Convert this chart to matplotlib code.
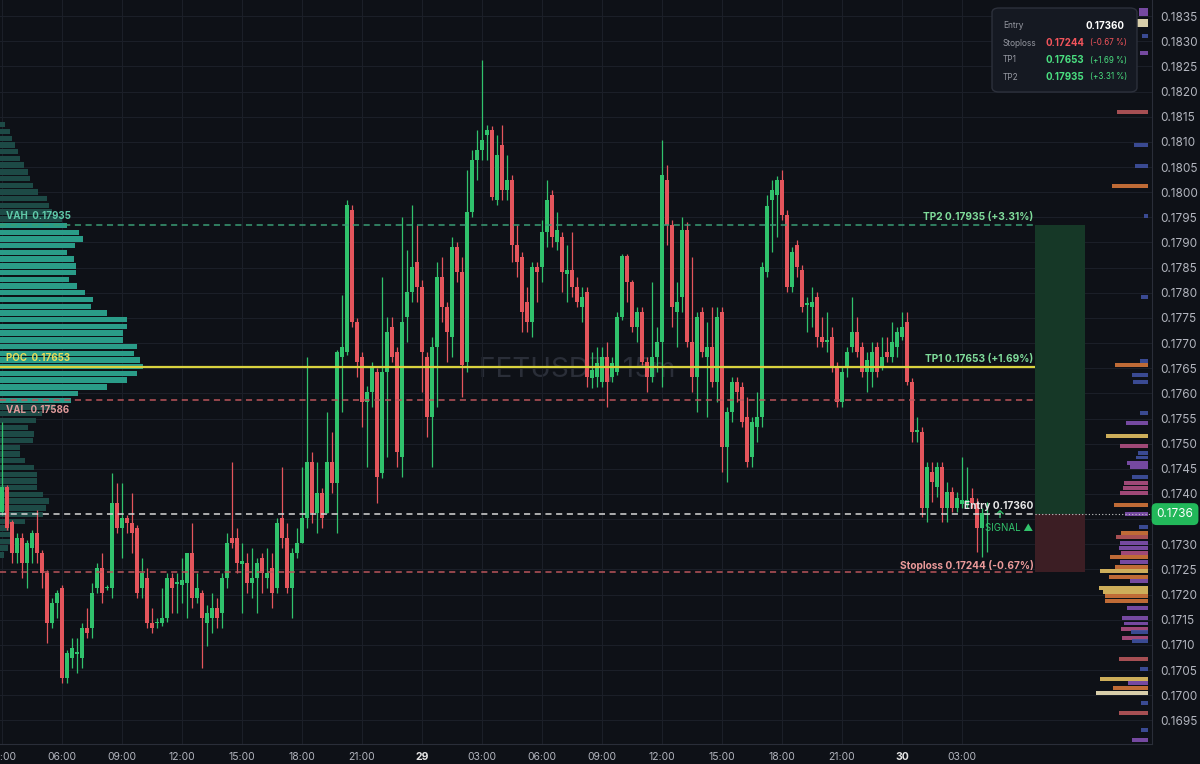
import numpy as np
import matplotlib.pyplot as plt
from matplotlib.patches import FancyBboxPatch, Rectangle

plt.rcParams['font.family'] = ['Inter', 'DejaVu Sans']

# FETUSDT 15m candles, first one = 28th 03:00
opens = [0.17364, 0.17414, 0.17344, 0.17283, 0.17313, 0.17263, 0.17293, 0.17322, 0.17283, 0.17243,
         0.17143, 0.17183, 0.17213, 0.17034, 0.17074, 0.17082, 0.17074, 0.17134, 0.17134, 0.17213,
         0.17253, 0.17213, 0.17213, 0.17382, 0.17332, 0.17352, 0.17342, 0.17332, 0.17213, 0.17233,
         0.17143, 0.17143, 0.17143, 0.17153, 0.17233, 0.17221, 0.17219, 0.17223, 0.17283, 0.17193,
         0.17203, 0.17143, 0.17153, 0.17173, 0.17163, 0.17233, 0.17313, 0.17313, 0.17261, 0.17263,
         0.17223, 0.17233, 0.17273, 0.17233, 0.17253, 0.17213, 0.17352, 0.17313, 0.17213, 0.17283,
         0.17303, 0.17352, 0.17464, 0.17362, 0.17402, 0.17362, 0.17464, 0.17422, 0.17672, 0.17682,
         0.17965, 0.17742, 0.17672, 0.17583, 0.17603, 0.17642, 0.17442, 0.17642, 0.17732, 0.17682,
         0.17474, 0.17752, 0.17801, 0.17861, 0.17811, 0.17672, 0.17553, 0.17692, 0.17831, 0.17772,
         0.17712, 0.17891, 0.17841, 0.17662, 0.17961, 0.18064, 0.18084, 0.18114, 0.18124, 0.17984,
         0.18094, 0.18004, 0.18024, 0.17895, 0.17871, 0.17782, 0.17742, 0.17851, 0.17851, 0.17921,
         0.17994, 0.17901, 0.17911, 0.17837, 0.17845, 0.17811, 0.17772, 0.17801, 0.17630, 0.17632,
         0.17623, 0.17672, 0.17632, 0.17642, 0.17752, 0.17873, 0.17821, 0.17732, 0.17762, 0.17662,
         0.17632, 0.17672, 0.17702, 0.18024, 0.17935, 0.17762, 0.17791, 0.17925, 0.17702, 0.17632,
         0.17762, 0.17672, 0.17692, 0.17623, 0.17762, 0.17493, 0.17563, 0.17623, 0.17613, 0.17553,
         0.17474, 0.17533, 0.17553, 0.17841, 0.17984, 0.17994, 0.18024, 0.17955, 0.17811, 0.17895,
         0.17845, 0.17776, 0.17772, 0.17792, 0.17712, 0.17702, 0.17712, 0.17652, 0.17583, 0.17652,
         0.17692, 0.17722, 0.17692, 0.17642, 0.17642, 0.17692, 0.17652, 0.17682, 0.17672, 0.17692,
         0.17712, 0.17742, 0.17623, 0.17523, 0.17523, 0.17372, 0.17444, 0.17414, 0.17454, 0.17372,
         0.17404, 0.17372, 0.17380, 0.17380, 0.17392, 0.17382, 0.17332, 0.17358]
highs = [0.17543, 0.17418, 0.17348, 0.17322, 0.17322, 0.17309, 0.17328, 0.17368, 0.17289, 0.17249,
         0.17193, 0.17209, 0.17219, 0.17090, 0.17114, 0.17114, 0.17143, 0.17173, 0.17223, 0.17263,
         0.17283, 0.17219, 0.17442, 0.17422, 0.17422, 0.17358, 0.17402, 0.17338, 0.17273, 0.17253,
         0.17173, 0.17153, 0.17213, 0.17243, 0.17243, 0.17243, 0.17273, 0.17283, 0.17342, 0.17243,
         0.17209, 0.17179, 0.17203, 0.17193, 0.17243, 0.17322, 0.17464, 0.17332, 0.17303, 0.17283,
         0.17293, 0.17273, 0.17283, 0.17293, 0.17283, 0.17352, 0.17454, 0.17342, 0.17293, 0.17332,
         0.17454, 0.17672, 0.17483, 0.17464, 0.17412, 0.17563, 0.17523, 0.17686, 0.17796, 0.17984,
         0.17975, 0.17750, 0.17682, 0.17615, 0.17662, 0.17650, 0.17831, 0.17752, 0.17752, 0.17692,
         0.17951, 0.17885, 0.17975, 0.17935, 0.17825, 0.17682, 0.17712, 0.17861, 0.17871, 0.17782,
         0.17911, 0.17901, 0.17871, 0.18044, 0.18084, 0.18124, 0.18263, 0.18134, 0.18132, 0.18114,
         0.18134, 0.18074, 0.18034, 0.17935, 0.17881, 0.17811, 0.17861, 0.17861, 0.17945, 0.18024,
         0.18004, 0.17961, 0.17921, 0.17895, 0.17921, 0.17831, 0.17811, 0.17811, 0.17682, 0.17692,
         0.17692, 0.17702, 0.17672, 0.17762, 0.17877, 0.17877, 0.17825, 0.17772, 0.17772, 0.17672,
         0.17821, 0.17732, 0.18104, 0.18054, 0.17945, 0.17821, 0.17951, 0.17941, 0.17871, 0.17762,
         0.17772, 0.17742, 0.17772, 0.17772, 0.17772, 0.17573, 0.17632, 0.17632, 0.17623, 0.17593,
         0.17553, 0.17603, 0.17861, 0.17994, 0.18024, 0.18032, 0.18044, 0.17965, 0.17891, 0.17905,
         0.17855, 0.17792, 0.17811, 0.17801, 0.17752, 0.17762, 0.17732, 0.17662, 0.17652, 0.17692,
         0.17792, 0.17752, 0.17702, 0.17682, 0.17702, 0.17702, 0.17712, 0.17712, 0.17742, 0.17732,
         0.17762, 0.17762, 0.17630, 0.17553, 0.17533, 0.17464, 0.17464, 0.17464, 0.17464, 0.17424,
         0.17414, 0.17404, 0.17474, 0.17454, 0.17412, 0.17392, 0.17372, 0.17384]
lows = [0.17358, 0.17328, 0.17263, 0.17263, 0.17233, 0.17213, 0.17263, 0.17263, 0.17213, 0.17104,
        0.17134, 0.17153, 0.17024, 0.17024, 0.17054, 0.17044, 0.17054, 0.17114, 0.17114, 0.17203,
        0.17183, 0.17209, 0.17193, 0.17322, 0.17273, 0.17322, 0.17283, 0.17193, 0.17193, 0.17134,
        0.17124, 0.17134, 0.17138, 0.17145, 0.17163, 0.17163, 0.17183, 0.17153, 0.17173, 0.17183,
        0.17054, 0.17098, 0.17124, 0.17134, 0.17134, 0.17213, 0.17293, 0.17243, 0.17163, 0.17203,
        0.17193, 0.17163, 0.17203, 0.17213, 0.17173, 0.17203, 0.17293, 0.17203, 0.17153, 0.17273,
        0.17303, 0.17332, 0.17342, 0.17322, 0.17332, 0.17362, 0.17402, 0.17322, 0.17563, 0.17676,
        0.17732, 0.17633, 0.17533, 0.17454, 0.17573, 0.17382, 0.17432, 0.17474, 0.17662, 0.17454,
        0.17434, 0.17702, 0.17782, 0.17782, 0.17603, 0.17513, 0.17454, 0.17573, 0.17742, 0.17662,
        0.17672, 0.17821, 0.17593, 0.17642, 0.17951, 0.18024, 0.18064, 0.18064, 0.17984, 0.17975,
        0.17984, 0.17984, 0.17861, 0.17831, 0.17722, 0.17722, 0.17712, 0.17782, 0.17821, 0.17891,
        0.17891, 0.17885, 0.17801, 0.17782, 0.17791, 0.17772, 0.17742, 0.17613, 0.17611, 0.17613,
        0.17613, 0.17573, 0.17623, 0.17636, 0.17746, 0.17782, 0.17722, 0.17702, 0.17656, 0.17603,
        0.17623, 0.17642, 0.17613, 0.17895, 0.17732, 0.17692, 0.17762, 0.17692, 0.17603, 0.17563,
        0.17672, 0.17553, 0.17613, 0.17583, 0.17444, 0.17424, 0.17543, 0.17583, 0.17533, 0.17454,
        0.17454, 0.17503, 0.17533, 0.17831, 0.17881, 0.17911, 0.17945, 0.17801, 0.17801, 0.17831,
        0.17762, 0.17722, 0.17732, 0.17692, 0.17692, 0.17682, 0.17642, 0.17573, 0.17573, 0.17632,
        0.17682, 0.17672, 0.17632, 0.17603, 0.17613, 0.17632, 0.17646, 0.17662, 0.17662, 0.17672,
        0.17706, 0.17617, 0.17503, 0.17503, 0.17354, 0.17344, 0.17384, 0.17394, 0.17344, 0.17344,
        0.17364, 0.17364, 0.17372, 0.17372, 0.17372, 0.17285, 0.17275, 0.17285]
closes = [0.17414, 0.17332, 0.17283, 0.17313, 0.17263, 0.17303, 0.17322, 0.17283, 0.17243, 0.17143,
          0.17183, 0.17203, 0.17034, 0.17084, 0.17094, 0.17086, 0.17134, 0.17124, 0.17203, 0.17253,
          0.17203, 0.17215, 0.17382, 0.17332, 0.17352, 0.17342, 0.17322, 0.17203, 0.17243, 0.17143,
          0.17134, 0.17145, 0.17153, 0.17233, 0.17213, 0.17225, 0.17229, 0.17283, 0.17193, 0.17213,
          0.17153, 0.17163, 0.17173, 0.17153, 0.17233, 0.17303, 0.17303, 0.17263, 0.17267, 0.17223,
          0.17233, 0.17263, 0.17243, 0.17243, 0.17203, 0.17342, 0.17313, 0.17213, 0.17283, 0.17303,
          0.17352, 0.17464, 0.17362, 0.17402, 0.17352, 0.17464, 0.17422, 0.17682, 0.17692, 0.17975,
          0.17742, 0.17662, 0.17583, 0.17603, 0.17652, 0.17434, 0.17642, 0.17722, 0.17672, 0.17483,
          0.17742, 0.17801, 0.17851, 0.17811, 0.17682, 0.17553, 0.17692, 0.17831, 0.17772, 0.17722,
          0.17891, 0.17841, 0.17656, 0.17961, 0.18064, 0.18084, 0.18104, 0.18124, 0.17990, 0.18074,
          0.18004, 0.18024, 0.17895, 0.17861, 0.17762, 0.17742, 0.17851, 0.17841, 0.17921, 0.17984,
          0.17911, 0.17925, 0.17841, 0.17845, 0.17811, 0.17782, 0.17791, 0.17632, 0.17646, 0.17660,
          0.17672, 0.17623, 0.17660, 0.17752, 0.17873, 0.17821, 0.17732, 0.17762, 0.17662, 0.17632,
          0.17672, 0.17702, 0.18034, 0.17935, 0.17772, 0.17782, 0.17925, 0.17702, 0.17632, 0.17752,
          0.17682, 0.17692, 0.17623, 0.17752, 0.17493, 0.17563, 0.17623, 0.17603, 0.17543, 0.17464,
          0.17543, 0.17553, 0.17851, 0.17973, 0.18004, 0.18024, 0.17955, 0.17811, 0.17881, 0.17851,
          0.17772, 0.17780, 0.17782, 0.17712, 0.17702, 0.17706, 0.17652, 0.17583, 0.17642, 0.17682,
          0.17722, 0.17682, 0.17642, 0.17666, 0.17682, 0.17642, 0.17672, 0.17672, 0.17702, 0.17722,
          0.17732, 0.17623, 0.17523, 0.17527, 0.17372, 0.17454, 0.17424, 0.17454, 0.17372, 0.17404,
          0.17372, 0.17392, 0.17388, 0.17388, 0.17382, 0.17332, 0.17362, 0.17360]

tick_labels = ['03:00', '06:00', '09:00', '12:00', '15:00', '18:00', '21:00', '29',
               '03:00', '06:00', '09:00', '12:00', '15:00', '18:00', '21:00', '30', '03:00']

# trade levels
entry = 0.17360
stoploss = 0.17244
tp1 = 0.17653
tp2 = 0.17935
sl_pct = -0.67
tp1_pct = 1.69
tp2_pct = 3.31

# visible range volume profile (left), rows top -> bottom
poc = 0.17653
vah = 0.17935
val = 0.17586
vp_step = 0.0001336
poc_row = 36
vp_volumes = [5, 10, 12, 15, 18, 20, 24, 28, 30, 33, 38, 47, 49, 52, 62,
              67, 79, 83, 75, 67, 74, 76, 76, 69, 77, 85, 93, 91, 107, 127,
              127, 123, 123, 137, 134, 140, 143, 137, 127, 107, 78, 71,
              55, 42, 36, 28, 34, 33, 20, 20, 25, 34, 37, 37, 37, 43, 49,
              46, 43, 25, 9, 13, 10, 8, 4]

# session profile (right side)
rp_prices = [0.18362, 0.18354, 0.18340, 0.18332, 0.18310, 0.18277,
             0.18159, 0.18094, 0.18052, 0.18012, 0.17953, 0.17792, 0.17664, 0.17656, 0.17637, 0.17623,
             0.17561, 0.17541, 0.17515, 0.17495, 0.17481, 0.17473, 0.17462, 0.17454, 0.17434, 0.17422,
             0.17412, 0.17402, 0.17378, 0.17360, 0.17334, 0.17322, 0.17314, 0.17303, 0.17293, 0.17283,
             0.17275, 0.17265, 0.17255, 0.17247, 0.17235, 0.17227, 0.17213, 0.17205, 0.17197, 0.17187,
             0.17173, 0.17153, 0.17143, 0.17132, 0.17126, 0.17114, 0.17108, 0.17072, 0.17052, 0.17032,
             0.17024, 0.17014, 0.17004, 0.16984, 0.16965, 0.16931, 0.16911]
rp_volumes = [9, 9, 13, 11, 6, 8,
              31, 14, 13, 36, 4, 7, 8, 33, 16, 15,
              8, 22, 42, 28, 10, 12, 21, 18, 16, 24,
              25, 28, 34, 23, 9, 27, 32, 28, 29, 27,
              38, 28, 33, 48, 39, 18, 49, 45, 43, 43,
              21, 26, 24, 27, 17, 26, 16, 29, 8, 48,
              20, 35, 52, 7, 29, 7, 16]
rp_kinds = ['purple', 'purple', 'cream', 'cream', 'blue', 'purple',
            'red', 'blue', 'blue', 'orange', 'blue', 'blue', 'blue', 'orange', 'blue', 'blue',
            'blue', 'purple', 'yellow', 'pink', 'blue', 'blue', 'purple', 'purple', 'blue', 'pink',
            'pink', 'pink', 'orange', 'purple', 'blue', 'orange', 'red', 'purple', 'purple', 'pink',
            'orange', 'purple', 'orange', 'yellow', 'orange', 'purple', 'yellow', 'yellow', 'orange', 'orange',
            'purple', 'purple', 'purple', 'pink', 'blue', 'pink', 'blue', 'red', 'blue', 'yellow',
            'purple', 'orange', 'cream', 'blue', 'red', 'blue', 'purple']

BG = '#0e1117'
GRID = '#1b1f28'
UP = '#30c26c'
DOWN = '#e4555c'
TXT = '#b2b5be'
palette = {'purple': '#8150b0', 'blue': '#3f51a0', 'red': '#b8575a', 'orange': '#d4763a',
           'yellow': '#e3c062', 'pink': '#b04f82', 'cream': '#efe4bb'}

fig = plt.figure(figsize=(12, 7.64), dpi=100, facecolor=BG)
ax = fig.add_axes([0, 20 / 764, 1152 / 1200, 744 / 764])
ax.set_facecolor(BG)

o = np.array(opens)
h = np.array(highs)
l = np.array(lows)
c = np.array(closes)
n = len(o)
x = np.arange(n)
cols = np.where(c >= o, UP, DOWN)

# candles
ax.vlines(x, l, h, colors=cols, lw=0.9, zorder=3)
ax.bar(x, np.maximum(np.abs(c - o), 0.00002), bottom=np.minimum(o, c), width=0.7,
       color=cols, linewidth=0, zorder=3.1)

xmin, xmax = -0.4, 230
ax.set_xlim(xmin, xmax)
ax.set_ylim(0.16903, 0.18382)

# left volume profile
levels = poc + (poc_row - np.arange(len(vp_volumes))) * vp_step
in_va = (levels >= val - 1e-6) & (levels <= vah + 1e-6)
ax.barh(levels, np.array(vp_volumes) / 5, left=xmin, height=vp_step * 0.8,
        color=np.where(in_va, '#2a9c88', '#1d4a46'), linewidth=0, zorder=1)

# right session profile
rw = np.array(rp_volumes) / 5
ax.barh(rp_prices, rw, left=229.2 - rw, height=0.00007,
        color=[palette[k] for k in rp_kinds], linewidth=0, alpha=0.9, zorder=1)

# watermark
ax.text(115, 0.17646, 'FETUSDT, 15m', fontsize=20, color='#2a2e38',
        ha='center', va='center', zorder=0.5)

# trade boxes
box_x = 206.6
ax.add_patch(Rectangle((box_x, entry), 10, tp2 - entry, facecolor='#163827',
                       edgecolor='none', zorder=0.8))
ax.add_patch(Rectangle((box_x, stoploss), 10, entry - stoploss, facecolor='#3c1e24',
                       edgecolor='none', zorder=0.8))

dash = (0, (4, 3))
ax.hlines(tp2, xmin, box_x, colors='#3a9c74', linestyles=dash, lw=1.1, zorder=4)
ax.hlines(poc, xmin, box_x, colors='#d9d23f', lw=1.6, zorder=4)
ax.hlines(val, xmin, box_x, colors='#b9545a', linestyles=dash, lw=1.1, zorder=4)
ax.hlines(stoploss, xmin, box_x, colors='#b9545a', linestyles=dash, lw=1.1, zorder=4)
ax.hlines(entry, xmin, box_x, colors='#d8d8d8', linestyles=dash, lw=1.1, zorder=4)
ax.hlines(entry, box_x, xmax, colors='#c8c8c8', linestyles=(0, (1, 2)), lw=0.8, zorder=4)

lab = dict(fontsize=7, fontweight='bold', textcoords='offset points', zorder=5)
ax.annotate(f'VAH  {vah:.5f}', (0.8, vah), xytext=(0, 3), color='#5fc9a9', va='bottom', **lab)
ax.annotate(f'POC  {poc:.5f}', (0.8, poc), xytext=(0, 3), color='#e8dc5a', va='bottom', **lab)
ax.annotate(f'VAL  {val:.5f}', (0.8, val), xytext=(0, -3), color='#e09a9a', va='top', **lab)
lab['fontsize'] = 7.3
ax.annotate(f'TP2 {tp2:.5f} (+{tp2_pct:.2f}%)', (box_x, tp2), xytext=(-1, 2),
            color='#7fdc9a', ha='right', va='bottom', **lab)
ax.annotate(f'TP1 {tp1:.5f} (+{tp1_pct:.2f}%)', (box_x, tp1), xytext=(-1, 2),
            color='#7fdc9a', ha='right', va='bottom', **lab)
ax.annotate(f'Entry {entry:.5f}', (box_x, entry), xytext=(-1, 2),
            color='#e6e6e6', ha='right', va='bottom', **lab)
ax.annotate(f'Stoploss {stoploss:.5f} ({sl_pct:.2f}%)', (box_x, stoploss), xytext=(-1, 1),
            color='#eb9a9a', ha='right', va='bottom', **lab)

# signal marker
ax.text(196.6, 0.17332, 'SIGNAL ▲', fontsize=7, color='#32c36c', ha='left', va='center', zorder=2.5)
ax.text(199.6, 0.17358, '↑', fontsize=8, fontweight='bold', color='#32c36c',
        ha='center', va='center', zorder=3.5)

# axes
ax.yaxis.tick_right()
ax.set_yticks(np.arange(0.1695, 0.18351, 0.0005))
ax.yaxis.set_major_formatter(plt.FuncFormatter(lambda v, p: f'{v:.4f}'))
ax.tick_params(axis='y', colors=TXT, labelsize=8.5, length=0, pad=6)
ax.set_xticks(range(0, n, 12))
ax.set_xticklabels(tick_labels)
ax.tick_params(axis='x', colors=TXT, labelsize=7.5, length=0, pad=6)
for t in ax.get_xticklabels():
    if ':' not in t.get_text():
        t.set_fontweight('bold')
        t.set_color('#e6e6e6')
ax.grid(True, color=GRID, lw=0.8)
ax.set_axisbelow(True)
for s in ['top', 'left']:
    ax.spines[s].set_visible(False)
for s in ['right', 'bottom']:
    ax.spines[s].set_color('#2a2e39')

# last price tag, covers the 0.1735 tick like the terminal does
ax.text(1.02, entry, f'{closes[-1]:.4f}', transform=ax.get_yaxis_transform(), fontsize=8.5,
        color='white', ha='center', va='center', zorder=6, clip_on=False,
        bbox=dict(boxstyle='round,pad=0.42', fc='#22b85a', ec='none'))

# info panel
def fx(px):
    return px / 1200


def fy(py):
    return 1 - py / 764


fig.add_artist(FancyBboxPatch((fx(992), fy(92)), fx(1137) - fx(992), fy(8) - fy(92),
                              boxstyle='round,pad=0,rounding_size=0.006', transform=fig.transFigure,
                              fc='#151922', ec='#2c303b', lw=1))
rows = [('Entry', f'{entry:.5f}', None, 'white'),
        ('Stoploss', f'{stoploss:.5f}', f'({sl_pct:.2f} %)', '#f2545b'),
        ('TP1', f'{tp1:.5f}', f'(+{tp1_pct:.2f} %)', '#4ade80'),
        ('TP2', f'{tp2:.5f}', f'(+{tp2_pct:.2f} %)', '#4ade80')]
for i, (name, val_txt, pct, col) in enumerate(rows):
    yy = fy(26 + 17 * i)
    fig.text(fx(1003), yy, name, fontsize=6, color='#9598a1', va='center')
    if pct is None:
        fig.text(fx(1125), yy, val_txt, fontsize=7, fontweight='bold', color=col,
                 ha='right', va='center')
    else:
        fig.text(fx(1046), yy, val_txt, fontsize=7, fontweight='bold', color=col, va='center')
        fig.text(fx(1127), yy, pct, fontsize=5.8, color=col, ha='right', va='center')

fig.savefig('out.png', dpi=100, facecolor=BG)
